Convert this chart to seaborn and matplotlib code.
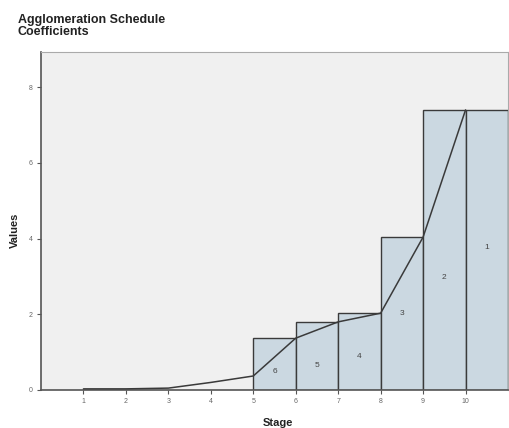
import matplotlib
matplotlib.use("Agg")
import matplotlib.pyplot as plt
import seaborn as sns
import numpy as np

# ---- data ----
stages = [1, 2, 3, 4, 5, 6, 7, 8, 9, 10]
coefficients = [0.03, 0.03, 0.05, 0.20, 0.37, 1.37, 1.80, 2.03, 4.04, 7.40]
bar_start_stage = [5, 6, 7, 8, 9, 10]
bar_heights = [1.37, 1.80, 2.03, 4.04, 7.40, 7.40]
bar_labels = ["6", "5", "4", "3", "2", "1"]
label_frac = [0.35, 0.36, 0.43, 0.50, 0.40, 0.51]
y_ticks = [0, 2, 4, 6, 8]

sns.set_theme(style="white")
plt.rcParams['font.family'] = ['Liberation Sans', 'DejaVu Sans']

fig = plt.figure(figsize=(5.09, 4.28), dpi=100)
ax = fig.add_axes([41/509, 1-390/428, 467/509, 338/428])
ax.set_facecolor("#F0F0F0")

centers = [s + 0.5 for s in bar_start_stage]
sns.barplot(x=centers, y=bar_heights, native_scale=True, width=1.0,
            color="#CBD8E1", saturation=1, edgecolor="#3A3A3A", linewidth=1.0,
            ax=ax, zorder=2)

sns.lineplot(x=stages, y=coefficients, color="#3A3A3A", linewidth=1.1, ax=ax, zorder=3)

for c, h, lab, f in zip(centers, bar_heights, bar_labels, label_frac):
    ax.text(c, h * f, lab, ha="center", va="center", fontsize=6, color="#444444", zorder=4)

ax.set_xlim(0, 11)
ax.set_ylim(0, 8.93)
ax.set_xticks(stages)
ax.set_xticklabels([str(s) for s in stages])
ax.set_yticks(y_ticks)
ax.set_yticklabels([str(t) for t in y_ticks])
ax.tick_params(axis="both", which="major", length=3, width=0.8, color="#555555",
               labelsize=5, labelcolor="#666666", direction="out", pad=3,
               bottom=True, left=True)

for side in ["left", "bottom"]:
    ax.spines[side].set_color("#555555")
    ax.spines[side].set_linewidth(1.2)
for side in ["top", "right"]:
    ax.spines[side].set_color("#AAAAAA")
    ax.spines[side].set_linewidth(0.8)

ax.set_xlabel("")
ax.set_ylabel("")
fig.text(278/509, 1-423/428, "Stage", ha="center", va="center", fontsize=8,
         fontweight="bold", color="#222222")
fig.text(15/509, 1-230/428, "Values", ha="center", va="center", rotation=90,
         fontsize=8, fontweight="bold", color="#222222")
fig.text(18/509, 1-14/428, "Agglomeration Schedule\nCoefficients", ha="left", va="top",
         fontsize=9, fontweight="bold", color="#222222", linespacing=0.95)

fig.savefig("out.png", dpi=100)
